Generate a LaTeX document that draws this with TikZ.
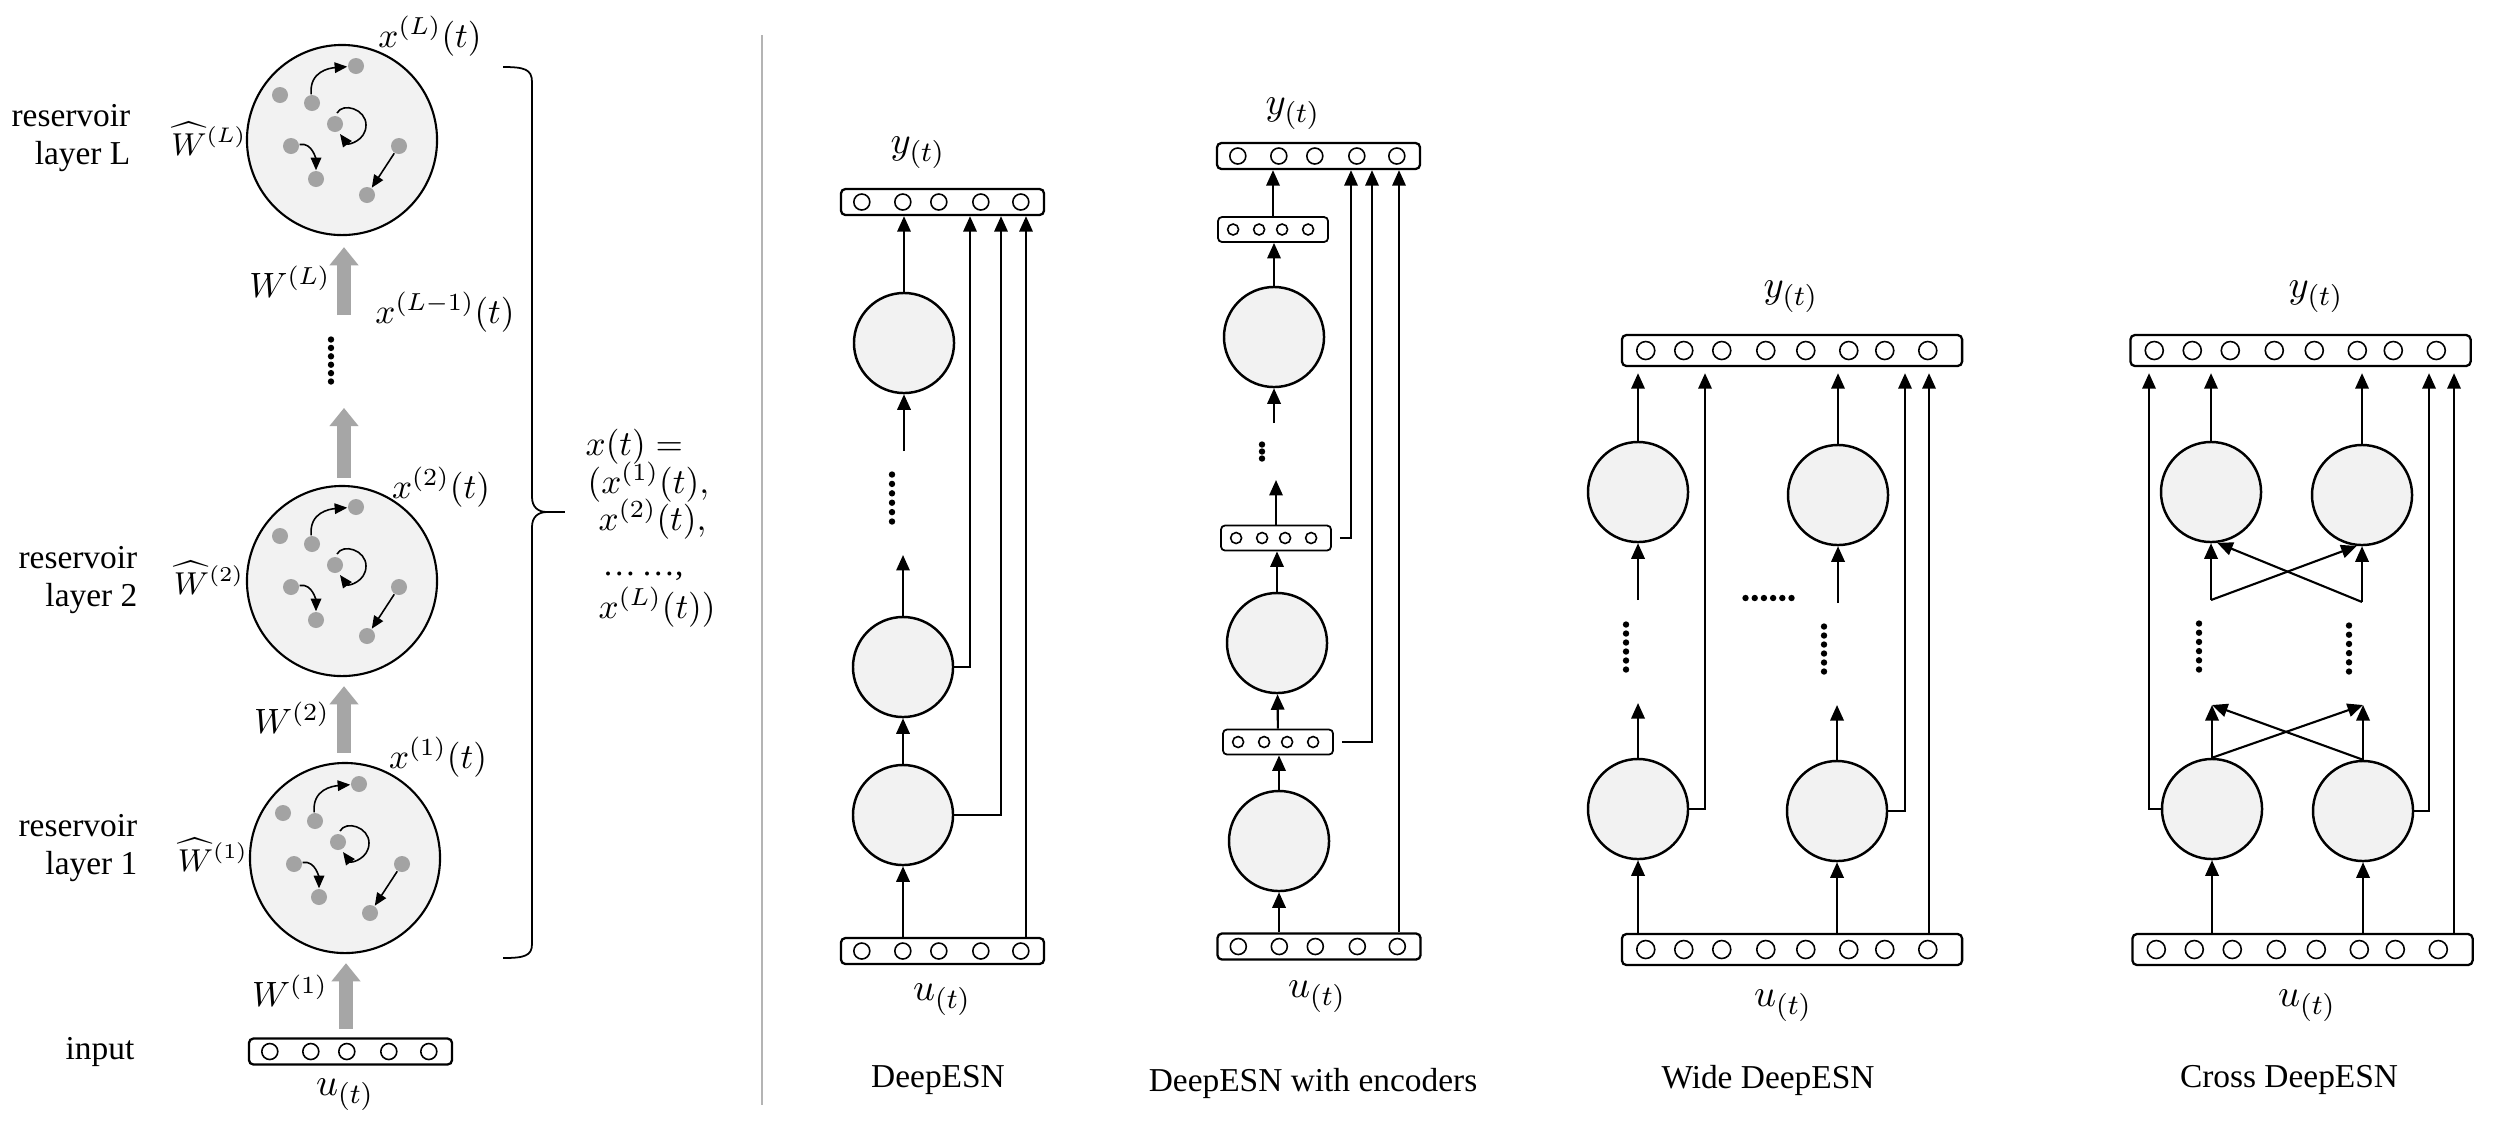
\documentclass[tikz,border=0pt]{standalone}
\usepackage{fontspec}
\setmainfont{Liberation Serif}
\usetikzlibrary{arrows.meta,calc}
\definecolor{resfill}{HTML}{F2F2F2}
\definecolor{dotgray}{HTML}{A3A3A3}
\definecolor{arrgray}{HTML}{A6A6A6}
\definecolor{sepgray}{HTML}{B4B4B4}
\tikzset{
  resv/.style={circle, draw, line width=0.7pt, fill=resfill, minimum size=10mm, inner sep=0pt},
  bigres/.style={circle, draw, line width=0.6pt, fill=resfill, minimum size=19mm, inner sep=0pt},
  barbox/.style={draw, line width=0.65pt, rounded corners=0.45mm, inner sep=0pt, fill=white},
  encbox/.style={draw, line width=0.5pt, rounded corners=0.4mm, inner sep=0pt, fill=white, minimum width=11mm, minimum height=2.5mm},
  cellring/.style={line width=0.45pt},
  arr/.style={line width=0.6pt, -{Triangle[width=3.8pt,length=4.4pt]}},
  thinarr/.style={line width=0.45pt, -{Triangle[width=3pt,length=3.6pt]}},
  fatarrow/.style={line width=3.9pt, draw=arrgray, -{Triangle[width=8pt,length=5.2pt]}},
  lbl/.style={inner sep=0pt, font=\fontsize{9.5}{10.7}\selectfont},
  mth/.style={inner sep=0pt, font=\fontsize{10}{12}\selectfont},
  mths/.style={inner sep=0pt, font=\fontsize{9}{11}\selectfont},
  mthb/.style={inner sep=0pt, font=\fontsize{11}{13}\selectfont},
  neuron/.style={circle, fill=dotgray, minimum size=1.6mm, inner sep=0pt},
}
\newcommand\barfive[3]{%
  \node[barbox, minimum width=20.3mm, minimum height=2.6mm] (#1) at (#2,#3) {};
  \foreach \p in {22,63,99,141,181}{\draw[cellring] ($(#1.west)+(\p,0)$) circle[radius=8];}
}
\newcommand\bareight[3]{%
  \node[barbox, minimum width=34mm, minimum height=3.1mm] (#1) at (#2,#3) {};
  \foreach \p in {25,63,101,145,185,228,264,307}{\draw[cellring] ($(#1.west)+(\p,0)$) circle[radius=9];}
}
\newcommand\barfour[3]{%
  \node[encbox] (#1) at (#2,#3) {};
  \foreach \p in {16,42,65,91}{\draw[cellring] ($(#1.west)+(\p,0)$) circle[radius=5.5];}
}
\newcommand\dotcol[5]{%
  \coordinate (#1) at (#2,#3);
  \foreach \k in {1,...,#4}{\fill ($(#1)+(0,{(\k-1)*#5})$) circle[radius=3.2];}
}
\newcommand\dotrow[5]{%
  \coordinate (#1) at (#2,#3);
  \foreach \k in {1,...,#4}{\fill ($(#1)+({(\k-1)*#5},0)$) circle[radius=3.2];}
}
\newcommand\resinner[3]{%
  \begin{scope}[shift={(#2,#3)}]
    \node[neuron] (#1a) at (14,-74) {};
    \node[neuron] (#1b) at (-62,-45) {};
    \node[neuron] (#1c) at (-30,-37) {};
    \node[neuron] (#1d) at (-7,-16) {};
    \node[neuron] (#1e) at (-51,6) {};
    \node[neuron] (#1f) at (-26,39) {};
    \node[neuron] (#1g) at (57,6) {};
    \node[neuron] (#1h) at (25,55) {};
  \end{scope}
  \draw[thinarr] (#1c) .. controls +(-3,-32) and +(-26,2) .. (#1a);
  \draw[thinarr] ($(#1d)+(2,-11)$) .. controls ($(#1d)+(8,-22)$) and ($(#1d)+(31,-15)$) .. ($(#1d)+(31,1)$) .. controls ($(#1d)+(31,17)$) and ($(#1d)+(13,21)$) .. ($(#1d)+(5,10)$);
  \draw[thinarr] (#1e) .. controls +(22,-4) and +(0,-18) .. (#1f);
  \draw[thinarr] (#1g) -- (#1h);
}
\begin{document}
\begin{tikzpicture}[x=0.01cm, y=-0.01cm]
\fill[white] (0,0) rectangle (2498,1138);
\useasboundingbox (0,0) rectangle (2498,1138);

%% ---------------- left panel ----------------
\node[bigres] (rL) at (342,140) {};
\node[bigres] (r2) at (342,581) {};
\node[bigres] (r1) at (345,858) {};
\resinner{L}{342}{140}
\resinner{B}{342}{581}
\resinner{A}{345}{858}
\barfive{inbar}{350.5}{1051.5}

\node[lbl, align=right, anchor=east] (labL) at (131,138) {reservoir\\layer L};
\node[lbl, align=right, anchor=east] (lab2) at (138,580) {reservoir\\layer 2};
\node[lbl, align=right, anchor=east] (lab1) at (138,848) {reservoir\\layer 1};
\node[lbl] (labin) at (100,1052) {input};

\node[mths] (whL) at (209,139) {$\widehat{W}^{(L)}$};
\node[mths] (wh2) at (209,578) {$\widehat{W}^{(2)}$};
\node[mths] (wh1) at (213,855) {$\widehat{W}^{(1)}$};
\node[mth] (wL) at (290,282) {$W^{(L)}$};
\node[mth] (w2) at (292,718) {$W^{(2)}$};
\node[mth] (w1) at (290,991) {$W^{(1)}$};
\node[mth] (xLt) at (430,36) {$x^{(L)}(t)$};
\node[mth] (xLm) at (445,312) {$x^{(L-1)}(t)$};
\node[mth] (x2t) at (441,487) {$x^{(2)}(t)$};
\node[mth] (x1t) at (438,757) {$x^{(1)}(t)$};
\node[mthb] (uin) at (345,1095) {$u_{(t)}$};

\dotcol{ld}{331}{339.5}{6}{8.4}
\draw[fatarrow] ($(rL.south)+(2,79)$) -- ($(rL.south)+(2,11)$);
\draw[fatarrow] ($(r2.north)+(2,-7)$) -- ($(r2.north)+(2,-77)$);
\draw[fatarrow] ($(r1.north)+(-1,-9)$) -- ($(r2.south)+(2,9)$);
\draw[fatarrow] ($(inbar.north)+(-4.5,-8.5)$) -- ($(r1.south)+(1,9)$);

% brace and equation
\draw[line width=0.5pt] (503,67) .. controls (524,67) and (532,69) .. (532,82) -- (532,497)
  .. controls (532,507) and (538,512) .. (547,512)
  .. controls (538,512) and (532,517) .. (532,527) -- (532,944)
  .. controls (532,956) and (524,958) .. (503,958);
\coordinate (btip) at (547,512);
\coordinate (bend) at (565,512);
\draw[line width=0.5pt] (btip) -- (bend);
\node[mth, anchor=base west] (eq1) at (585,455) {$x(t)=$};
\node[mth, anchor=base west] (eq2) at (587,493) {$(x^{(1)}(t),$};
\node[mth, anchor=base west] (eq3) at (598,530) {$x^{(2)}(t),$};
\node[lbl, anchor=base west] (eq4) at (602,575) {…\,…,};
\node[mth, anchor=base west] (eq5) at (598,618) {$x^{(L)}(t))$};

% separator
\draw[sepgray, line width=0.7pt] (762,35) -- (762,1105);

%% ---------------- DeepESN ----------------
\barfive{dout}{942.5}{202}
\node[mthb] (yd) at (918,153) {$y_{(t)}$};
\node[resv] (dc3) at (904,343) {};
\node[resv] (dc2) at (903,667) {};
\node[resv] (dc1) at (903,815) {};
\barfive{din}{942.5}{951}
\node[mthb] (ud) at (942,1000) {$u_{(t)}$};
\node[lbl] (tdeep) at (938,1080) {DeepESN};
\dotcol{dd}{892}{474.5}{6}{9.4}
\coordinate (da) at (904,451);
\coordinate (db) at (903,555);
\coordinate (dx1) at (970,0);
\coordinate (dx2) at (1001,0);
\coordinate (dx3) at (1026,0);
\draw[arr] (dc3) -- (dc3 |- dout.south);
\draw[arr] (da) -- (dc3);
\draw[arr] (dc2) -- (db);
\draw[arr] (dc1) -- (dc2);
\draw[arr] (dc1 |- din.north) -- (dc1);
\draw[arr] (dc2.east) -| (dx1 |- dout.south);
\draw[arr] (dc1.east) -| (dx2 |- dout.south);
\draw[arr] (dx3 |- din.north) -- (dx3 |- dout.south);

%% ---------------- DeepESN with encoders ----------------
\barfive{eout}{1318.5}{156}
\node[mthb] (ye) at (1293,114) {$y_{(t)}$};
\barfour{en3}{1273}{229.5}
\node[resv] (ec3) at (1274,337) {};
\dotcol{ed}{1262}{444.5}{3}{7}
\coordinate (ea) at (1274,423);
\coordinate (eb) at (1276,480);
\barfour{en2}{1276}{538}
\node[resv] (ec2) at (1277,643) {};
\barfour{en1}{1278}{742}
\node[resv] (ec1) at (1279,841) {};
\barfive{ein}{1319}{946.5}
\node[mthb] (ue) at (1317,997) {$u_{(t)}$};
\node[lbl] (tenc) at (1313,1083) {DeepESN with encoders};
\coordinate (ex1) at (1351,0);
\coordinate (ex2) at (1372,0);
\coordinate (ex3) at (1399,0);
\draw[arr] (en3) -- (en3 |- eout.south);
\draw[arr] (ec3) -- (ec3 |- en3.south);
\draw[arr] (ea) -- (ec3);
\draw[arr] (en2) -- (eb);
\draw[arr] (ec2) -- (ec2 |- en2.south);
\draw[arr] (en1) -- (ec2);
\draw[arr] (ec1) -- (ec1 |- en1.south);
\draw[arr] (ec1 |- ein.north) -- (ec1);
\draw[arr, shorten <=0.8mm] (en2.east) -| (ex1 |- eout.south);
\draw[arr, shorten <=0.8mm] (en1.east) -| (ex2 |- eout.south);
\draw[arr] (ex3 |- ein.north) -- (ex3 |- eout.south);

%% ---------------- Wide DeepESN ----------------
\bareight{wout}{1792}{350.5}
\node[mthb] (yw) at (1791,297) {$y_{(t)}$};
\node[resv] (wlt) at (1638,492) {};
\node[resv] (wrt) at (1838,495) {};
\node[resv] (wlb) at (1638,809) {};
\node[resv] (wrb) at (1837,811) {};
\bareight{win}{1792}{949.5}
\node[mthb] (uw) at (1783,1006) {$u_{(t)}$};
\node[lbl] (twide) at (1768,1080) {Wide DeepESN};
\dotcol{wdl}{1626}{624.5}{6}{9}
\dotcol{wdr}{1824}{626.5}{6}{9}
\dotrow{wdh}{1745.5}{598}{6}{9.2}
\coordinate (wl1) at (1638,600);
\coordinate (wr1) at (1838,603);
\coordinate (wl2) at (1638,703);
\coordinate (wr2) at (1837,705);
\coordinate (wx1) at (1705,0);
\coordinate (wx2) at (1905,0);
\coordinate (wx3) at (1929,0);
\draw[arr, shorten >=0.6mm] (wlt) -- (wlt |- wout.south);
\draw[arr, shorten >=0.6mm] (wrt) -- (wrt |- wout.south);
\draw[arr] (wl1) -- (wlt);
\draw[arr] (wr1) -- (wrt);
\draw[arr] (wlb) -- (wl2);
\draw[arr] (wrb) -- (wr2);
\draw[arr] (wlb |- win.north) -- (wlb);
\draw[arr] (wrb |- win.north) -- (wrb);
\draw[arr, shorten >=0.6mm] (wlb.east) -| (wx1 |- wout.south);
\draw[arr, shorten >=0.6mm] (wrb.east) -| (wx2 |- wout.south);
\draw[arr, shorten >=0.6mm] (wx3 |- win.north) -- (wx3 |- wout.south);

%% ---------------- Cross DeepESN ----------------
\bareight{xout}{2300.5}{350.5}
\node[mthb] (yx) at (2316,297) {$y_{(t)}$};
\node[resv] (xlt) at (2211,492) {};
\node[resv] (xrt) at (2362,495) {};
\node[resv] (xlb) at (2212,809) {};
\node[resv] (xrb) at (2363,811) {};
\bareight{xin}{2302.5}{949.5}
\node[mthb] (ux) at (2307,1006) {$u_{(t)}$};
\node[lbl] (tcross) at (2289,1080) {Cross DeepESN};
\dotcol{xdl}{2199}{623.5}{6}{9.2}
\dotcol{xdr}{2349}{625.5}{6}{9.2}
\coordinate (xu1) at (2211,600);
\coordinate (xu2) at (2362,602);
\coordinate (xl1) at (2212,705);
\coordinate (xl2) at (2363,705);
\coordinate (cx1) at (2149,0);
\coordinate (cx2) at (2429,0);
\coordinate (cx3) at (2454,0);
\draw[arr, shorten >=0.6mm] (xlt) -- (xlt |- xout.south);
\draw[arr, shorten >=0.6mm] (xrt) -- (xrt |- xout.south);
\draw[arr] (xu1) -- (xlt);
\draw[arr] (xu1) -- (xrt.-96);
\draw[arr] (xu2) -- (xrt);
\draw[arr] (xu2) -- (xlt.-83);
\draw[arr] (xlb) -- (xl1);
\draw[arr] (xlb.north) -- (xl2);
\draw[arr] (xrb) -- (xl2);
\draw[arr] (xrb.north) -- (xl1);
\draw[arr] (xlb |- xin.north) -- (xlb);
\draw[arr] (xrb |- xin.north) -- (xrb);
\draw[arr, shorten >=0.6mm] (xlb.west) -| (cx1 |- xout.south);
\draw[arr, shorten >=0.6mm] (xrb.east) -| (cx2 |- xout.south);
\draw[arr, shorten >=0.6mm] (cx3 |- xin.north) -- (cx3 |- xout.south);
\end{tikzpicture}
\end{document}
